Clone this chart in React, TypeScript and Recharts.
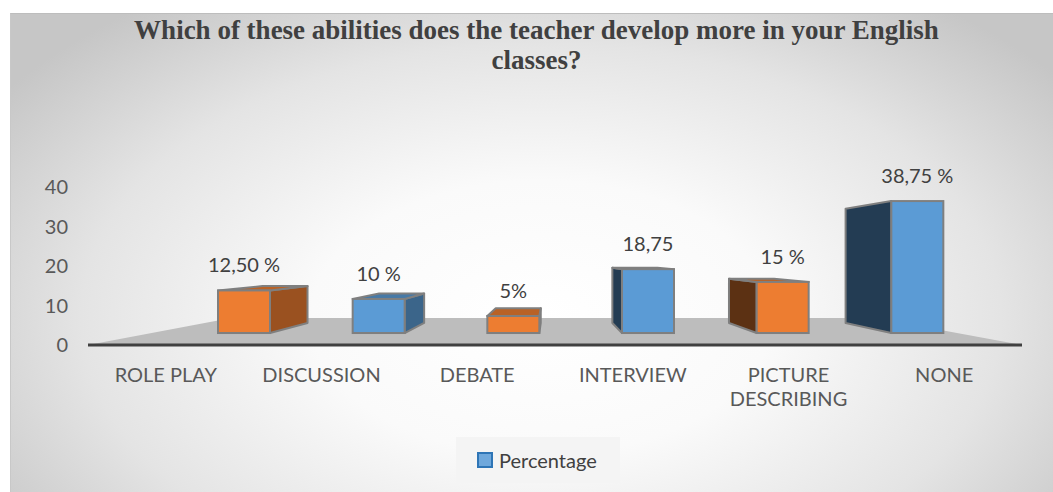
import React from 'react'
import { BarChart, Bar, XAxis, YAxis, ReferenceArea, LabelList, Text } from 'recharts'

const categories = ['ROLE PLAY', 'DISCUSSION', 'DEBATE', 'INTERVIEW', 'PICTURE DESCRIBING', 'NONE']
const percentages = [12.5, 10, 5, 18.75, 15, 38.75]
const valueLabels = ['12,50 %', '10 %', '5%', '18,75', '15 %', '38,75 %']
const yTicks = [0, 10, 20, 30, 40]

const BAR_COLORS = ['#ED7D31', '#5B9BD5', '#ED7D31', '#5B9BD5', '#ED7D31', '#5B9BD5']

const data = categories.map((name, i) => ({
  name,
  value: percentages[i],
  label: valueLabels[i],
}))

// fake 3d: vanishing point + how much the back faces shrink toward it
const VP_X = 550
const VP_Y = 258
const BAR_DEPTH = 0.866
const FLOOR_DEPTH = 0.69

const FONT = 'Lato, "Open Sans", sans-serif'
const EDGE = '#7F7F7F'

function shade(hex: string, f: number) {
  const n = parseInt(hex.slice(1), 16)
  const r = Math.round(((n >> 16) & 255) * f)
  const g = Math.round(((n >> 8) & 255) * f)
  const b = Math.round((n & 255) * f)
  return `rgb(${r},${g},${b})`
}

const backX = (px: number, k: number) => VP_X + (px - VP_X) * k
const backY = (py: number, k: number) => VP_Y + (py - VP_Y) * k

function Bar3D(props: any) {
  const { x, y, width, height, index } = props
  const color = BAR_COLORS[index % BAR_COLORS.length]
  const left = x
  const right = x + width
  const top = y
  const bottom = y + height
  const k = BAR_DEPTH
  const pts = (arr: number[][]) => arr.map((p) => p.join(',')).join(' ')

  let side = null
  if (right < VP_X) {
    side = (
      <polygon
        points={pts([[right, top], [backX(right, k), backY(top, k)], [backX(right, k), backY(bottom, k)], [right, bottom]])}
        fill={shade(color, 0.65)}
        stroke={EDGE}
        strokeWidth={2}
        strokeLinejoin="round"
      />
    )
  } else if (left > VP_X) {
    side = (
      <polygon
        points={pts([[left, top], [backX(left, k), backY(top, k)], [backX(left, k), backY(bottom, k)], [left, bottom]])}
        fill={shade(color, 0.39)}
        stroke={EDGE}
        strokeWidth={2}
        strokeLinejoin="round"
      />
    )
  }

  const topFace = top > VP_Y ? (
    <polygon
      points={pts([[left, top], [right, top], [backX(right, k), backY(top, k)], [backX(left, k), backY(top, k)]])}
      fill={shade(color, 0.78)}
      stroke={EDGE}
      strokeWidth={2}
      strokeLinejoin="round"
    />
  ) : null

  return (
    <g>
      {side}
      {topFace}
      <rect x={left} y={top} width={width} height={height} fill={color} stroke={EDGE} strokeWidth={2} />
    </g>
  )
}

function Floor(props: any) {
  const { x, y, width, height } = props
  const front = y + height
  const r = x + width
  const points = [
    [x, front],
    [r, front],
    [backX(r, FLOOR_DEPTH), backY(front, FLOOR_DEPTH)],
    [backX(x, FLOOR_DEPTH), backY(front, FLOOR_DEPTH)],
  ]
  return <polygon points={points.map((p) => p.join(',')).join(' ')} fill="#BDBDBD" />
}

function CategoryTick(props: any) {
  const { x, y, payload } = props
  return (
    <Text
      x={x}
      y={y}
      width={125}
      textAnchor="middle"
      verticalAnchor="start"
      lineHeight={24}
      fontSize={20}
      fontFamily={FONT}
      fill="#595959"
    >
      {payload.value}
    </Text>
  )
}

function ValueLabel(props: any) {
  const { x, y, width, value } = props
  return (
    <text x={x + width / 2} y={y - 18} textAnchor="middle" fontSize={20} fontFamily={FONT} fill="#404040">
      {value}
    </text>
  )
}

export default function App() {
  return (
    <div style={{ position: 'fixed', left: 0, top: 0, width: 1053, height: 492, background: '#fff', overflow: 'hidden' }}>
      <div
        style={{
          position: 'absolute',
          left: 10,
          top: 13,
          width: 1060,
          height: 490,
          borderTop: '1px solid #BDBDBD',
          borderLeft: '1px solid #C8C8C8',
          background: 'radial-gradient(ellipse 62% 80% at 50% 62%, #ffffff 0%, #fafafa 35%, #e4e4e4 70%, #c6c6c6 100%)',
        }}
      />
      <div
        style={{
          position: 'absolute',
          left: 10,
          top: 15,
          width: 1053,
          textAlign: 'center',
          fontFamily: '"Liberation Serif", "Times New Roman", serif',
          fontWeight: 'bold',
          fontSize: 27,
          lineHeight: '30px',
          color: '#404040',
        }}
      >
        Which of these abilities does the teacher develop more in your English
        <br />
        classes?
      </div>

      <div style={{ position: 'absolute', left: 0, top: 0 }}>
        <BarChart width={1053} height={492} data={data} margin={{ top: 187, right: 31, bottom: 117, left: 0 }}>
          <XAxis
            xAxisId="labels"
            dataKey="name"
            height={30}
            axisLine={{ stroke: '#404040', strokeWidth: 3 }}
            tickLine={false}
            tickSize={0}
            tickMargin={23}
            tick={<CategoryTick />}
            interval={0}
          />
          <XAxis xAxisId="bars" dataKey="name" hide height={0} padding={{ left: 89, right: 37 }} />
          <YAxis
            yAxisId="main"
            width={88}
            domain={[0, 40]}
            allowDataOverflow
            ticks={yTicks}
            axisLine={false}
            tickLine={false}
            tickSize={0}
            tickMargin={20}
            tick={{ fill: '#595959', fontSize: 20, fontFamily: FONT }}
          />
          {/* bars sit a little behind the front edge of the floor */}
          <YAxis yAxisId="bars" hide width={0} domain={[-3.52, 42.88]} allowDataOverflow />
          <ReferenceArea xAxisId="labels" yAxisId="main" y1={0} y2={2} shape={<Floor />} ifOverflow="visible" />
          <Bar
            xAxisId="bars"
            yAxisId="bars"
            dataKey="value"
            name="Percentage"
            barSize={52}
            fill="#5B9BD5"
            shape={<Bar3D />}
            isAnimationActive={false}
          >
            <LabelList dataKey="label" content={<ValueLabel />} />
          </Bar>
        </BarChart>
      </div>

      <div
        style={{
          position: 'absolute',
          left: 456,
          top: 437,
          width: 164,
          height: 46,
          background: '#F4F4F4',
          display: 'flex',
          alignItems: 'center',
          fontFamily: FONT,
          fontSize: 20,
          color: '#404040',
        }}
      >
        <span
          style={{
            display: 'inline-block',
            width: 12,
            height: 12,
            marginLeft: 21,
            marginRight: 6,
            background: '#6FA8DC',
            border: '2px solid #2E75B6',
          }}
        />
        Percentage
      </div>
    </div>
  )
}
